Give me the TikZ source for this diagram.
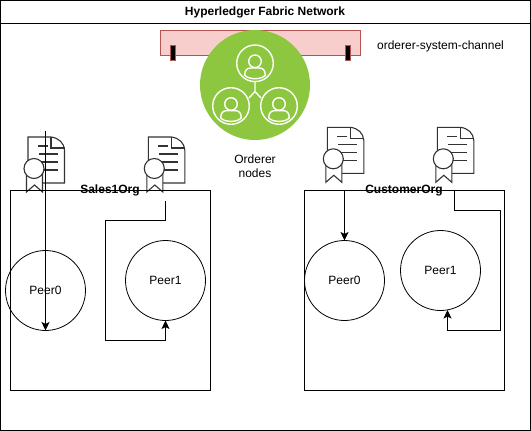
\documentclass[tikz,border=0pt]{standalone}
\usepackage{fontspec}
\setmainfont{Liberation Sans}
\usetikzlibrary{arrows.meta}
\definecolor{ordgreen}{HTML}{8DC63F}
\definecolor{chanfill}{HTML}{F8CECC}
\definecolor{chanline}{HTML}{B85450}
\definecolor{certline}{HTML}{333333}
\tikzset{
  frame/.style={draw=black,line width=0.9pt,fill=none,anchor=north west,inner sep=0pt,outer sep=0pt},
  peer/.style={circle,draw=black,line width=0.8pt,minimum size=80pt,inner sep=0pt,outer sep=0pt,font=\fontsize{12}{14}\selectfont},
  title/.style={font=\bfseries\fontsize{12}{14}\selectfont,inner sep=0pt},
  plain/.style={font=\fontsize{12}{14}\selectfont,inner sep=0pt,align=center},
  flow/.style={draw=black,line width=0.9pt,-{Stealth[length=8.5pt,width=8pt,inset=2pt]}},
  usr/.style={draw=white,line width=1.4pt},
  pin/.style={draw=chanline,fill=black,line width=0.6pt,minimum width=5pt,minimum height=15pt,inner sep=0pt}
}
\newcommand{\certicon}[1]{%
  \begin{scope}[shift={(#1)},draw=certline,line width=1.1pt]
    \draw[fill=white] (0,0) -- (23,0) .. controls (31,1) and (36,6) .. (36.5,13) -- (36.5,46) -- (0,46) -- cycle;
    \draw (23,0) -- (23,11) -- (36.5,11);
    \draw (10,9) -- (20,9) (11,17) -- (30,17) (11,25) -- (30,25) (11,33) -- (30,33);
    \draw[fill=white] (-1.5,35) -- (-1.5,55) -- (6.5,48) -- (14.5,55) -- (14.5,35) -- cycle;
    \draw[fill=white] (6,31.5) circle (10);
  \end{scope}}
\newcommand{\usricon}[1]{%
  \begin{scope}[shift={(#1)}]
    \draw[usr] (0,0) circle (18.3);
    \draw[usr] (0,-2) circle (6.3);
    \draw[usr] (-10.3,12) .. controls (-10.3,7) and (-8,4.7) .. (-4.5,4.7) -- (4.5,4.7) .. controls (8,4.7) and (10.3,7) .. (10.3,12)
      .. controls (6,16.5) and (-6,16.5) .. cycle;
  \end{scope}}
\begin{document}
\begin{tikzpicture}[x=1pt,y=-1pt]
\useasboundingbox (0,0) rectangle (531,431);
\fill[white] (0,0) rectangle (531,431);
\node[frame,minimum width=530pt,minimum height=429.7pt] (net) at (0.5,0.5) {};
\coordinate (tl) at (0.5,23.5);
\coordinate (tr) at (530.5,23.5);
\draw[line width=0.9pt] (tl) -- (tr);
\node[title] (nettitle) at (265,12.5) {Hyperledger Fabric Network};
% channel
\node[draw=chanline,fill=chanfill,line width=0.8pt,minimum width=200pt,minimum height=25pt,anchor=north west,inner sep=0pt,outer sep=0pt] (chan) at (160.5,30.5) {};
\node[pin] (pinl) at (172.8,52.8) {};
\node[pin] (pinr) at (348,52.8) {};
\node[plain] (chanlabel) at (440.5,46) {orderer-system-channel};
% orderer
\node[circle,fill=ordgreen,minimum size=110pt,inner sep=0pt] (ord) at (255,85) {};
\usricon{255,63.3}
\usricon{231,106}
\usricon{279,106}
\draw[usr] (255,81.6) -- (255,91.5) (249,98) -- (255,91.5) -- (261,98);
\node[plain] (ordlabel) at (255,165.8) {Orderer\\nodes};
% certificates
\certicon{28,137}
\certicon{148.3,137}
\certicon{327.3,127.3}
\certicon{437.3,127.3}
% orgs
\node[frame,minimum width=200pt,minimum height=200pt] (sales) at (10.5,190.5) {};
\node[frame,minimum width=200pt,minimum height=200pt] (cust) at (304.5,190.5) {};
\node[title] (saleslabel) at (110,190.8) {Sales1Org};
\node[title] (custlabel) at (404,191) {CustomerOrg};
% peers
\node[peer] (p0) at (45.5,290.5) {Peer0};
\node[peer] (p1) at (165.5,280.5) {Peer1};
\node[peer] (q0) at (344.5,280.5) {Peer0};
\node[peer] (q1) at (440.5,270.5) {Peer1};
% connectors
\coordinate (a0) at (45.5,130.5);
\draw[flow] (a0) -- (p0.south);
\coordinate (b0) at (165.5,200.5);
\draw[flow] (b0) -- (165.5,220.5) -- (105.5,220.5) -- (105.5,340.5) -- (165.5,340.5) -- (p1.south);
\coordinate (c0) at (344.5,190.5);
\draw[flow] (c0) -- (q0.north);
\coordinate (d0) at (454.5,190.5);
\coordinate (d1) at (447.5,310);
\draw[flow] (d0) -- (454.5,210.5) -- (500.5,210.5) -- (500.5,330.5) -- (447.5,330.5) -- (d1);
\end{tikzpicture}
\end{document}
